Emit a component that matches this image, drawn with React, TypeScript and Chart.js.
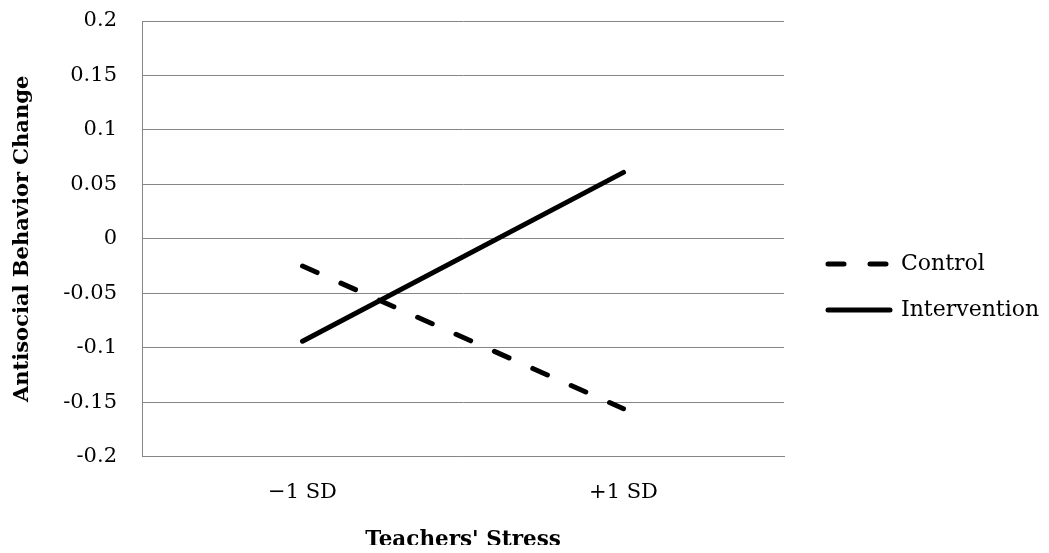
import React, { useEffect, useRef } from "react";
import { Chart, registerables } from "chart.js";

Chart.register(...registerables);

const categories = ["\u22121 SD", "+1 SD"];
const controlValues = [-0.025, -0.156];
const interventionValues = [-0.094, 0.061];
const seriesNames = ["Control", "Intervention"];
const yTitle = "Antisocial Behavior Change";
const xTitle = "Teachers' Stress";
const yMin = -0.2;
const yMax = 0.2;
const yStep = 0.05;

const FONT = "'DejaVu Serif', serif";
const GRID = "#868686";

export default function App() {
  const ref = useRef<HTMLCanvasElement | null>(null);

  useEffect(() => {
    if (!ref.current) return;
    const chart = new Chart(ref.current, {
      type: "line",
      data: {
        labels: categories,
        datasets: [
          {
            label: seriesNames[0],
            data: controlValues,
            borderColor: "#000",
            backgroundColor: "#000",
            borderWidth: 5,
            borderDash: [16, 26],
            borderCapStyle: "round",
            pointRadius: 0,
            pointHoverRadius: 0,
            tension: 0,
            yAxisID: "y",
          },
          {
            label: seriesNames[1],
            data: interventionValues,
            borderColor: "#000",
            backgroundColor: "#000",
            borderWidth: 5,
            borderCapStyle: "round",
            pointRadius: 0,
            pointHoverRadius: 0,
            tension: 0,
            yAxisID: "y",
          },
        ],
      },
      options: {
        animation: false,
        responsive: true,
        maintainAspectRatio: false,
        layout: { padding: { top: 13, left: 0, right: 0, bottom: 0 } },
        plugins: {
          tooltip: { enabled: false },
          legend: {
            position: "right",
            align: "center",
            maxWidth: 237,
            labels: {
              usePointStyle: true,
              pointStyleWidth: 62,
              padding: 24,
              color: "#000",
              font: { family: FONT, size: 22 },
              generateLabels: (c: any) =>
                c.data.datasets.map((ds: any, i: number) => ({
                  text: ds.label,
                  fillStyle: "rgba(0,0,0,0)",
                  strokeStyle: "#000",
                  lineWidth: 5,
                  lineDash: ds.borderDash || [],
                  lineCap: "round",
                  pointStyle: "line",
                  hidden: false,
                  datasetIndex: i,
                  fontColor: "#000",
                })),
            },
          },
        },
        scales: {
          x: {
            type: "category",
            offset: true,
            grid: { display: false, drawTicks: false },
            border: { display: true, color: GRID, width: 1 },
            ticks: { color: "#000", font: { family: FONT, size: 21 }, padding: 23, maxRotation: 0 },
            title: {
              display: true,
              text: xTitle,
              color: "#000",
              font: { family: FONT, size: 21.5, weight: "bold" },
              padding: { top: 0, bottom: 0 },
            },
            afterFit: (s: any) => {
              s.height = 96.3;
            },
          },
          y: {
            type: "linear",
            position: "left",
            min: yMin,
            max: yMax,
            grid: {
              color: GRID,
              lineWidth: 1,
              drawTicks: true,
              tickLength: 25,
              tickColor: "rgba(0,0,0,0)",
            },
            border: { display: true, color: GRID, width: 1 },
            ticks: {
              stepSize: yStep,
              color: "#000",
              font: { family: FONT, size: 21 },
              padding: 0,
              callback: (v: any) => String(Number(Number(v).toFixed(2))),
            },
            title: {
              display: true,
              text: yTitle,
              color: "#000",
              font: { family: FONT, size: 21, weight: "bold" },
              padding: { top: 2, bottom: 0 },
            },
            afterFit: (s: any) => {
              s.width = 134;
            },
          },
          spacer: {
            type: "linear",
            position: "right",
            display: true,
            grid: { display: false, drawTicks: false },
            border: { display: false },
            ticks: { display: false },
            afterFit: (s: any) => {
              s.width = 20;
            },
          },
        },
      },
    } as any);
    return () => chart.destroy();
  }, []);

  return (
    <div style={{ position: "relative", width: "1033px", height: "545px", marginBottom: "-8px" }}>
      <canvas ref={ref} />
    </div>
  );
}
